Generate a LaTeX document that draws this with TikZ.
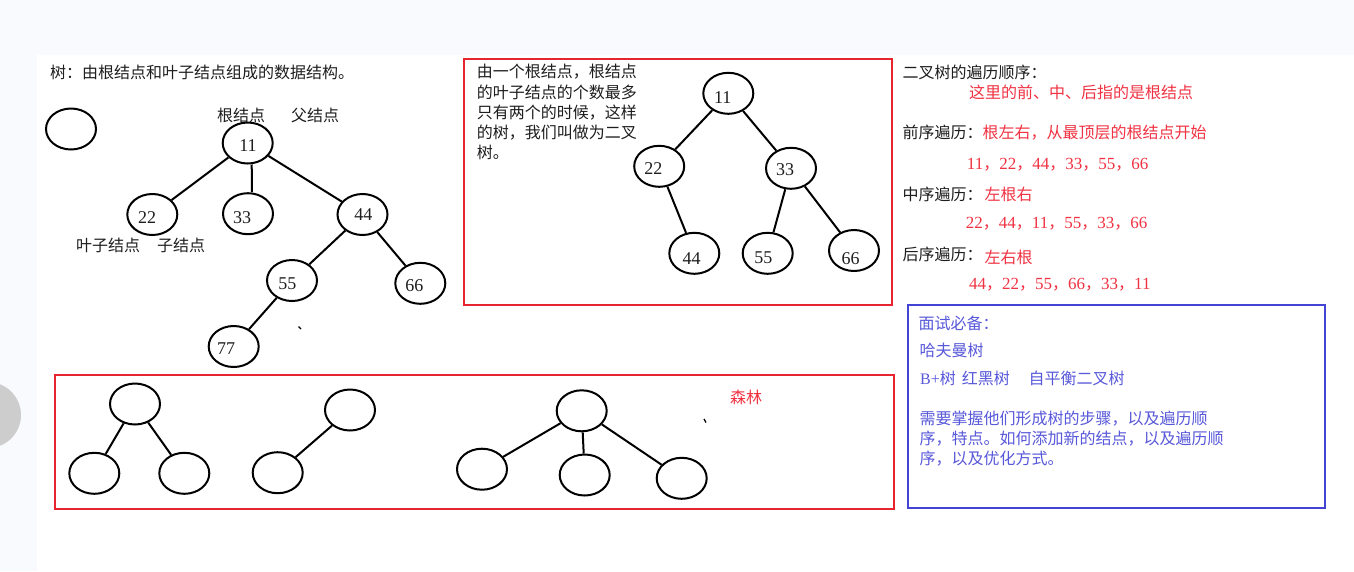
\documentclass[tikz,border=0pt]{standalone}
\usepackage{fontspec}
\setmainfont{Liberation Serif}
\newfontfamily\cjk{Noto Sans CJK SC}
\usetikzlibrary{shapes.geometric}
\definecolor{bgc}{RGB}{249,250,254}
\definecolor{graycirc}{RGB}{205,205,205}
\definecolor{boxred}{RGB}{232,36,46}
\definecolor{txtred}{RGB}{240,50,66}
\definecolor{boxblue}{RGB}{68,68,212}
\definecolor{txtblue}{RGB}{88,88,218}
\definecolor{ink}{RGB}{30,30,30}
\newcommand\zc{{\fontsize{16}{16}\selectfont\cjk ，}}
\begin{document}
\begin{tikzpicture}[x=1pt,y=-1pt,
  tn/.style={draw=black, line width=2pt, ellipse, minimum width=50pt, minimum height=41pt, inner sep=0pt},
  ed/.style={line width=2pt, black},
  num/.style={font=\fontsize{18}{18}\selectfont, text=ink, inner sep=0pt},
  txt/.style={font=\fontsize{16}{16}\selectfont\cjk, anchor=west, inner sep=0pt, text=ink},
  rtxt/.style={txt, text=txtred},
  rnum/.style={font=\fontsize{17}{17}\selectfont, anchor=west, inner sep=0pt, text=txtred},
  btxt/.style={txt, text=txtblue},
  redbox/.style={draw=boxred, line width=2pt},
  bluebox/.style={draw=boxblue, line width=2pt}
]
\useasboundingbox (0,0) rectangle (1354,571);
% background
\fill[bgc] (0,0) rectangle (1354,571);
\fill[white] (37,55) rectangle (1354,571);
\fill[graycirc] (-12,415) circle (33);

% ---------- general tree ----------
\node[txt] (title) at (50,72.7) {树：由根结点和叶子结点组成的数据结构。};
\node[tn] (lone) at (71,129) {};
\node[txt] (lroot) at (217,115) {根结点};
\node[txt] (lpar) at (291,115) {父结点};
\node[txt] (lleaf) at (76,245) {叶子结点};
\node[txt] (lchild) at (157,245) {子结点};

\node[tn] (a11) at (247.7,143) {};
\node[tn] (a22) at (152.3,214.5) {};
\node[tn] (a33) at (248,213.7) {};
\node[tn] (a44) at (362.5,214.5) {};
\node[tn] (a55) at (292,280.5) {};
\node[tn] (a66) at (420.3,283.3) {};
\node[tn] (a77) at (233.7,346.5) {};
\node[num] (n11) at (248,146) {11};
\node[num] (n22) at (147,218) {22};
\node[num] (n33) at (242,217.3) {33};
\node[num] (n44) at (363.3,215) {44};
\node[num] (n55) at (287.3,283.3) {55};
\node[num] (n66) at (414.3,285.7) {66};
\node[num] (n77) at (226,349) {77};
\draw[ed] (a11) -- (a22);
\draw[ed] (a11.south) ++(4,0) -- ([xshift=4pt]a33.north);
\draw[ed] (a11) -- (a44);
\draw[ed] (a44) -- (a55);
\draw[ed] (a44) -- (a66);
\draw[ed] (a55) -- (a77);
\draw[line width=1.3pt] (298.5,326.5) -- (301,329);

% ---------- binary tree ----------
\draw[redbox] (464,59) rectangle (892,305);
\node[txt] (b1) at (476.7,71.7) {由一个根结点，根结点};
\node[txt] (b2) at (476.7,92.7) {的叶子结点的个数最多};
\node[txt] (b3) at (476.7,112.7) {只有两个的时候，这样};
\node[txt] (b4) at (476.7,132.7) {的树，我们叫做为二叉};
\node[txt] (b5) at (476.7,152.7) {树。};

\node[tn] (c11) at (728.3,93.3) {};
\node[tn] (c22) at (659.2,166.3) {};
\node[tn] (c33) at (791,168.3) {};
\node[tn] (c44) at (694.3,253.3) {};
\node[tn] (c55) at (767.7,253.3) {};
\node[tn] (c66) at (854,250.5) {};
\node[num] (m11) at (722.7,97.7) {11};
\node[num] (m22) at (653.3,168.3) {22};
\node[num] (m33) at (785,169.3) {33};
\node[num] (m44) at (691.7,258.3) {44};
\node[num] (m55) at (763.3,257.3) {55};
\node[num] (m66) at (850.7,258.3) {66};
\draw[ed] (c11) -- (c22);
\draw[ed] (c11) -- (c33);
\draw[ed] (c22) -- (c44);
\draw[ed] (c33) -- (c55);
\draw[ed] (c33) -- (c66);

% ---------- traversal text ----------
\node[txt] (r1) at (902.3,72.7) {二叉树的遍历顺序：};
\node[rtxt] (r2) at (969,92.7) {这里的前、中、后指的是根结点};
\node[txt] (r3) at (902.3,132.7) {前序遍历：};
\node[rtxt] (r3b) at (982.3,132.7) {根左右，从最顶层的根结点开始};
\node[rnum] (r4) at (966.7,165) {11\zc 22\zc 44\zc 33\zc 55\zc 66};
\node[txt] (r5) at (902.3,194.3) {中序遍历：};
\node[rtxt] (r5b) at (984.3,194.3) {左根右};
\node[rnum] (r6) at (965.7,223.3) {22\zc 44\zc 11\zc 55\zc 33\zc 66};
\node[txt] (r7) at (902.3,254.3) {后序遍历：};
\node[rtxt] (r7b) at (984.3,257.3) {左右根};
\node[rnum] (r8) at (969,284.3) {44\zc 22\zc 55\zc 66\zc 33\zc 11};

% ---------- interview box ----------
\draw[bluebox] (908,305) rectangle (1325,508.3);
\node[btxt] (i1) at (918.3,323.3) {面试必备：};
\node[btxt] (i2) at (919.5,350) {哈夫曼树};
\node[btxt] (i3) at (920,378.3) {\rmfamily B+\cjk 树};
\node[btxt] (i4) at (961.7,378.3) {红黑树};
\node[btxt] (i5) at (1028.3,378.3) {自平衡二叉树};
\node[btxt] (i6) at (919.5,418.3) {需要掌握他们形成树的步骤，以及遍历顺};
\node[btxt] (i7) at (919.5,439) {序，特点。如何添加新的结点，以及遍历顺};
\node[btxt] (i8) at (919.5,458.3) {序，以及优化方式。};

% ---------- forest ----------
\draw[redbox] (55,374.5) rectangle (894,509);
\node[rtxt] (forest) at (730,397.7) {森林};
\node[tn] (f1r) at (135,404) {};
\node[tn] (f1a) at (94.3,473.3) {};
\node[tn] (f1b) at (184.3,473.3) {};
\draw[ed] (f1r) -- (f1a);
\draw[ed] (f1r) -- (f1b);
\node[tn] (f2r) at (350,410) {};
\node[tn] (f2a) at (277.7,472.7) {};
\draw[ed] (f2r) -- (f2a);
\node[tn] (f3r) at (581.7,410.8) {};
\node[tn] (f3a) at (482,469.2) {};
\node[tn] (f3b) at (584.7,475) {};
\node[tn] (f3c) at (681.7,478.3) {};
\draw[ed] (f3r) -- (f3a);
\draw[ed] (f3r) -- (f3b);
\draw[ed] (f3r) -- (f3c);
\draw[line width=1.3pt] (704,419) -- (706,422.5);
\end{tikzpicture}
\end{document}
